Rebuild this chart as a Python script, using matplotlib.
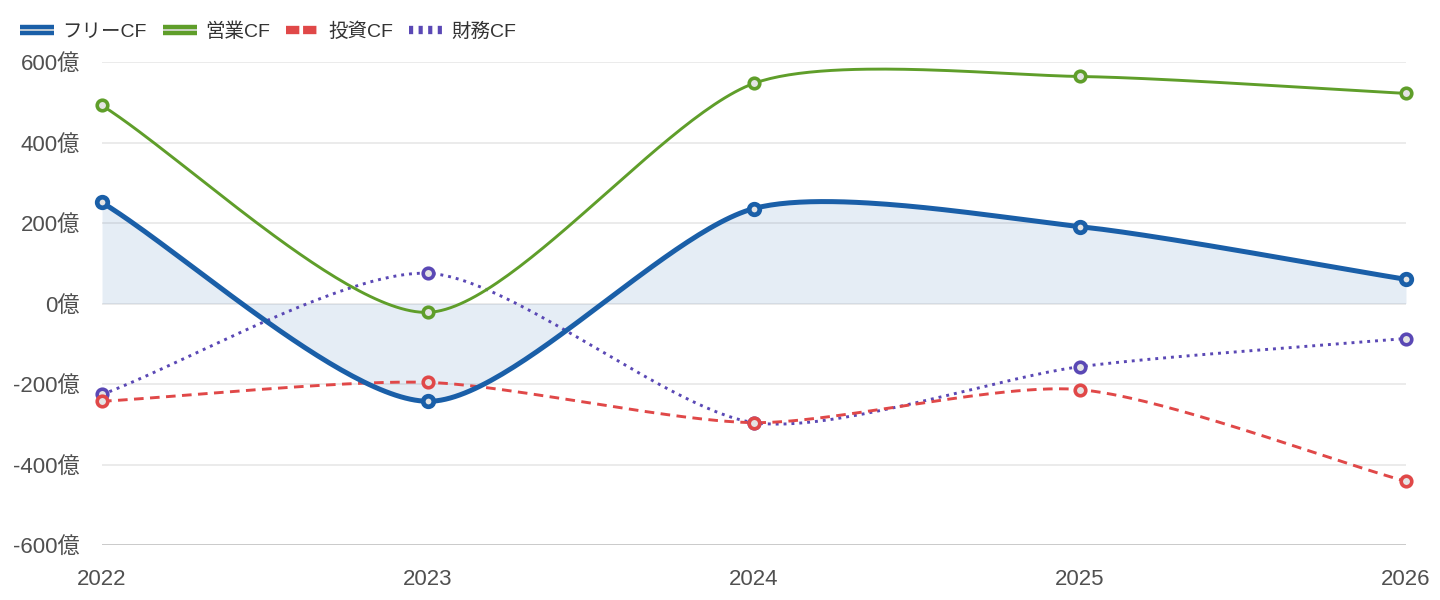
import numpy as np
import matplotlib
matplotlib.use("Agg")
import matplotlib.pyplot as plt
from matplotlib.lines import Line2D
import matplotlib.patheffects as pe

plt.rcParams['font.family'] = ['Liberation Sans', 'Noto Sans CJK JP', 'DejaVu Sans']

years = ["2022", "2023", "2024", "2025", "2026"]
free_cf = [251, -243, 236, 191, 60]
op_cf = [492, -22, 547, 564, 522]
inv_cf = [-243, -196, -296, -214, -442]
fin_cf = [-226, 75, -296, -157, -87]
yticks = [-600, -400, -200, 0, 200, 400, 600]
ytick_labels = [f"{v}億" for v in yticks]

names = ["フリーCF", "営業CF", "投資CF", "財務CF"]
colors = ["#1a5fa8", "#5f9e2a", "#e04848", "#5a48b5"]

W, H, DPI = 14.4, 6.0, 100
fig = plt.figure(figsize=(W, H), dpi=DPI)
left, right, top, bottom = 102 / 1440, 1406 / 1440, 1 - 62 / 600, 1 - 545 / 600
ax = fig.add_axes([left, bottom, right - left, top - bottom])
ax.set_xlim(0, len(years) - 1)
ax.set_ylim(-600, 600)

# pixel scales for smoothing
px_x = (1406 - 102) / (len(years) - 1)
px_y = (545 - 62) / 1200.0


def smooth_curve(vals, smooth=0.25, n=60):
    xs = np.arange(len(vals), dtype=float) * px_x
    ys = np.array(vals, dtype=float) * px_y
    pts = np.column_stack([xs, ys])
    N = len(pts)
    cps = []
    for i in range(N):
        prev = pts[i - 1] if i > 0 else pts[i]
        nxt = pts[i + 1] if i < N - 1 else pts[i]
        cur = pts[i]
        v = nxt - prev
        d0 = np.hypot(*(cur - prev))
        d1 = np.hypot(*(nxt - cur))
        s = d0 + d1
        if s > 0:
            d0 /= s
            d1 /= s
        cps.append((cur - v * smooth * d0, cur + v * smooth * d1))
    out = []
    t = np.linspace(0, 1, n)[:, None]
    for i in range(N - 1):
        p0 = pts[i]
        c1 = cps[i][1]
        c2 = cps[i + 1][0]
        p3 = pts[i + 1]
        seg = (1 - t) ** 3 * p0 + 3 * (1 - t) ** 2 * t * c1 + 3 * (1 - t) * t ** 2 * c2 + t ** 3 * p3
        out.append(seg if i == 0 else seg[1:])
    out = np.vstack(out)
    return out[:, 0] / px_x, out[:, 1] / px_y


# grid
for v in yticks:
    ax.axhline(v, color="#e6e6e6", lw=1.1, zorder=0)
ax.axhline(-600, color="#c8c8c8", lw=1.3, zorder=1)

xi = np.arange(len(years))

# free CF area
fx, fy = smooth_curve(free_cf)
ax.fill_between(fx, fy, 0, color="#1a5fa8", alpha=0.11, lw=0, zorder=1)

series = [
    (free_cf, colors[0], "-", 3.6, 7.6, 3.4),
    (op_cf, colors[1], "-", 2.1, 7.6, 2.6),
    (inv_cf, colors[2], (0, (3.3, 2.2)), 2.1, 7.6, 2.6),
    (fin_cf, colors[3], (0, (1, 1.7)), 2.1, 7.6, 2.6),
]
z = [6, 5, 4, 3]
for (vals, c, ls, lw, ms, mew), zz in zip(series, z):
    cx, cy = smooth_curve(vals)
    ax.plot(cx, cy, color=c, ls=ls, lw=lw, zorder=zz, solid_capstyle="butt", dash_capstyle="butt")
for (vals, c, ls, lw, ms, mew), zz in zip(series, z):
    ax.plot(xi, vals, ls="none", marker="o", ms=ms, mfc="#e4e4e4", mec=c, mew=mew, zorder=zz + 5, clip_on=False)

ax.set_xticks(xi)
ax.set_xticklabels(years)
ax.set_yticks(yticks)
ax.set_yticklabels(ytick_labels)
ax.tick_params(axis="both", length=0, labelsize=16, labelcolor="#505050")
ax.tick_params(axis="y", pad=16)
ax.tick_params(axis="x", pad=17)
for s in ax.spines.values():
    s.set_visible(False)

# legend
handles = []
for name, c, ls in zip(names, colors, ["-", "-", (0, (1.6, 0.45)), (0, (0.5, 0.65))]):
    if ls == "-":
        h = Line2D([0], [0], color="#dcdcdc", lw=1.2, ls="-", solid_capstyle="butt",
                   path_effects=[pe.Stroke(linewidth=7.5, foreground=c, capstyle="butt"), pe.Normal()])
    else:
        h = Line2D([0], [0], color=c, lw=6, ls=ls, dash_capstyle="butt")
    handles.append(h)
leg = fig.legend(handles, names, loc="upper left", bbox_to_anchor=(0.006, 0.982), ncol=4,
                 frameon=False, fontsize=14, handlelength=1.75, handletextpad=0.4,
                 columnspacing=0.85, borderaxespad=0.2)
for t in leg.get_texts():
    t.set_color("#333333")

fig.savefig("out.png", dpi=DPI)
